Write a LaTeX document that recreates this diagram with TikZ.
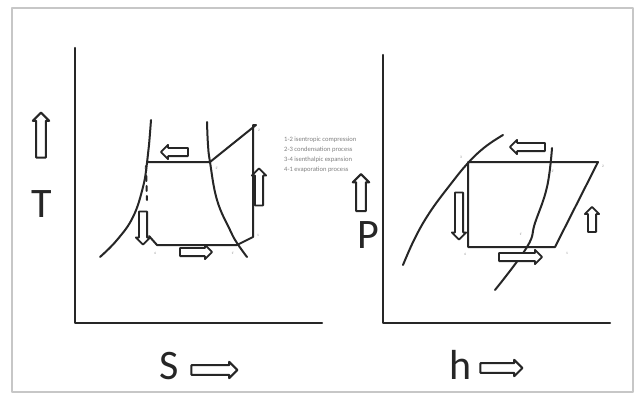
\documentclass[tikz,border=0pt]{standalone}
\usepackage{fontspec}
\setmainfont{Carlito}
\usetikzlibrary{shapes.arrows}
\begin{document}
\begin{tikzpicture}[x=1pt,y=-1pt,line join=round,line cap=round,
  axis/.style={line width=2.4pt,black!85},
  curve/.style={line width=2pt,black!85},
  blk/.style={single arrow,draw=black!85,fill=white,line width=1.8pt,inner sep=3.2pt,
    single arrow head extend=3pt,single arrow head indent=0pt,anchor=center},
  bigblk/.style={blk,inner sep=3.8pt,single arrow head extend=3.4pt,line width=2pt},
  axlab/.style={font=\fontsize{42}{42}\selectfont,text=black!85,inner sep=0pt},
  pt/.style={font=\fontsize{3.5}{4}\selectfont,text=black!45,inner sep=0pt}]
\useasboundingbox (0,0) rectangle (636,396);
\fill[white] (0,0) rectangle (636,396);
\draw[black!22,line width=1.6pt] (12,8) rectangle (633,392);
% ---------- T-s diagram ----------
\coordinate (Lo) at (75,323);
\coordinate (Ltop) at (75,48);
\coordinate (Lend) at (322,323);
\draw[axis] (Ltop) -- (Lo) -- (Lend);
% saturation dome
\draw[curve] plot[smooth,tension=0.7] coordinates {(151,120) (149,145) (147,163) (143,187) (133,217) (117,240) (100,257)};
\draw[curve] plot[smooth,tension=0.7] coordinates {(207,122) (208,145) (210,162) (217,200) (230,230) (237,243) (247,257)};
% cycle points
\coordinate (s3) at (147,162);
\coordinate (s2p) at (210,162);
\coordinate (s2) at (256,125);
\coordinate (s1) at (253,237);
\coordinate (s1p) at (237,245);
\coordinate (s4) at (157,245);
\coordinate (s4a) at (149,236);
\draw[curve] (s3) -- (s2p) -- (s2) -- (253,125) -- (s1) -- (s1p) -- (s4) -- (s4a);
\draw[curve,dash pattern=on 5pt off 5pt] (146,166) -- (147,200);
\node[blk,minimum height=27pt,shape border rotate=180] (la1) at (176.5,152) {};
\node[blk,minimum height=32pt] (la2) at (194,252) {};
\node[blk,minimum height=37pt,shape border rotate=90] (la3) at (259,189) {};
\node[blk,minimum height=33pt,shape border rotate=270] (la4) at (143,226) {};
\node[pt] (p3) at (145,168) {3};
\node[pt] (p2p) at (217,168) {2'};
\node[pt] (p2) at (259,130) {2};
\node[pt] (p1) at (258,235) {1};
\node[pt] (p4) at (155,253) {4};
\node[pt] (p1p) at (233,253) {1'};
% axis labels
\node[bigblk,minimum height=45pt,shape border rotate=90] (Tarr) at (41,137.5) {};
\node[axlab] (T) at (42,204) {T};
\node[axlab] (S) at (169,366) {S};
\node[bigblk,minimum height=46pt] (Sarr) at (212,370) {};
% legend
\node[anchor=north west,align=left,inner sep=0pt,text=black!50,
  font=\fontsize{6.6}{10}\selectfont] (legend) at (284,137)
  {1-2 isentropic compression\\2-3 condensation process\\3-4 isenthalpic expansion\\4-1 evaporation process};
% ---------- P-h diagram ----------
\coordinate (Ro) at (383,323);
\coordinate (Rtop) at (383,55);
\coordinate (Rend) at (610,323);
\draw[axis] (Rtop) -- (Ro) -- (Rend);
\draw[curve] plot[smooth,tension=0.7] coordinates {(403,265) (415,238) (430,212) (450,185) (468,163) (485,147) (503,135)};
\draw[curve] plot[smooth,tension=0.7] coordinates {(552,148) (547,187) (535,223) (527,247) (495,290)};
\coordinate (h3) at (468,162);
\coordinate (h2) at (598,162);
\coordinate (h1) at (555,247);
\coordinate (h4) at (468,247);
\draw[curve] (h3) -- (h2) -- (h1) -- (h4) -- cycle;
\node[blk,minimum height=35pt,shape border rotate=180] (ra1) at (529.5,147) {};
\node[blk,minimum height=47pt,shape border rotate=270] (ra2) at (459,214) {};
\node[blk,minimum height=25pt,shape border rotate=90] (ra3) at (592,221.5) {};
\node[blk,minimum height=43pt] (ra4) at (518.5,257) {};
\node[pt] (q3) at (461,157) {3};
\node[pt] (q2p) at (553,171) {2'};
\node[pt] (q2) at (603,166) {2};
\node[pt] (q4) at (465,254) {4};
\node[pt] (q1) at (567,253) {1};
\node[pt] (q1p) at (521,234) {1'};
\node[bigblk,minimum height=37pt,shape border rotate=90] (Parr) at (361,195) {};
\node[axlab] (P) at (368,235) {P};
\node[axlab] (h) at (461,365) {h};
\node[bigblk,minimum height=42pt] (harr) at (499,368) {};
\end{tikzpicture}
\end{document}
